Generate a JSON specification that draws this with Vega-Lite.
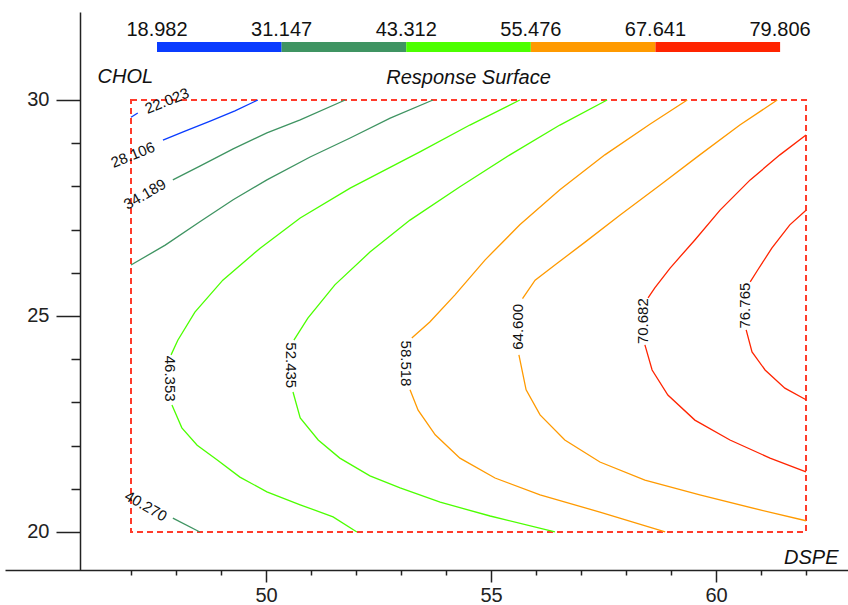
{
  "$schema": "https://vega.github.io/schema/vega-lite/v6.json",
  "width": 843,
  "height": 558,
  "autosize": "none",
  "padding": {"left": 5, "top": 12, "right": 0, "bottom": 35},
  "background": "white",
  "config": {"view": {"stroke": null}, "font": "Liberation Sans"},
  "title": {"text": "Response Surface", "orient": "top", "anchor": "middle", "frame": "group", "offset": 0, "dx": 42, "dy": 92, "baseline": "alphabetic", "fontSize": 20, "fontStyle": "italic", "fontWeight": "normal", "color": "#111"},
  "datasets": {
    "box": [{"x": 47, "x2": 62, "y": 20, "y2": 30}],
    "contours": [
      {"lv": 22.023, "s": "a", "i": 0, "x": 47.0, "y": 29.6},
      {"lv": 22.023, "s": "a", "i": 1, "x": 47.15, "y": 29.7},
      {"lv": 28.106, "s": "b", "i": 0, "x": 47.71, "y": 29.07},
      {"lv": 28.106, "s": "b", "i": 1, "x": 48.2, "y": 29.28},
      {"lv": 28.106, "s": "b", "i": 2, "x": 48.76, "y": 29.51},
      {"lv": 28.106, "s": "b", "i": 3, "x": 49.31, "y": 29.75},
      {"lv": 28.106, "s": "b", "i": 4, "x": 49.82, "y": 30.0},
      {"lv": 34.189, "s": "c", "i": 0, "x": 47.93, "y": 28.15},
      {"lv": 34.189, "s": "c", "i": 1, "x": 48.53, "y": 28.47},
      {"lv": 34.189, "s": "c", "i": 2, "x": 49.27, "y": 28.87},
      {"lv": 34.189, "s": "c", "i": 3, "x": 50.02, "y": 29.24},
      {"lv": 34.189, "s": "c", "i": 4, "x": 50.76, "y": 29.54},
      {"lv": 34.189, "s": "c", "i": 5, "x": 51.76, "y": 30.0},
      {"lv": 40.27, "s": "d1", "i": 0, "x": 53.71, "y": 30.0},
      {"lv": 40.27, "s": "d1", "i": 1, "x": 52.76, "y": 29.58},
      {"lv": 40.27, "s": "d1", "i": 2, "x": 51.87, "y": 29.12},
      {"lv": 40.27, "s": "d1", "i": 3, "x": 50.98, "y": 28.68},
      {"lv": 40.27, "s": "d1", "i": 4, "x": 50.02, "y": 28.15},
      {"lv": 40.27, "s": "d1", "i": 5, "x": 49.27, "y": 27.69},
      {"lv": 40.27, "s": "d1", "i": 6, "x": 48.53, "y": 27.18},
      {"lv": 40.27, "s": "d1", "i": 7, "x": 47.76, "y": 26.64},
      {"lv": 40.27, "s": "d1", "i": 8, "x": 47.0, "y": 26.18},
      {"lv": 40.27, "s": "d2", "i": 0, "x": 47.93, "y": 20.32},
      {"lv": 40.27, "s": "d2", "i": 1, "x": 48.53, "y": 20.0},
      {"lv": 46.353, "s": "e1", "i": 0, "x": 55.64, "y": 30.0},
      {"lv": 46.353, "s": "e1", "i": 1, "x": 54.53, "y": 29.42},
      {"lv": 46.353, "s": "e1", "i": 2, "x": 53.42, "y": 28.8},
      {"lv": 46.353, "s": "e1", "i": 3, "x": 51.87, "y": 27.96},
      {"lv": 46.353, "s": "e1", "i": 4, "x": 50.76, "y": 27.27},
      {"lv": 46.353, "s": "e1", "i": 5, "x": 49.87, "y": 26.57},
      {"lv": 46.353, "s": "e1", "i": 6, "x": 49.04, "y": 25.83},
      {"lv": 46.353, "s": "e1", "i": 7, "x": 48.42, "y": 25.09},
      {"lv": 46.353, "s": "e1", "i": 8, "x": 48.04, "y": 24.44},
      {"lv": 46.353, "s": "e1", "i": 9, "x": 47.89, "y": 24.1},
      {"lv": 46.353, "s": "e2", "i": 0, "x": 47.91, "y": 22.94},
      {"lv": 46.353, "s": "e2", "i": 1, "x": 48.13, "y": 22.41},
      {"lv": 46.353, "s": "e2", "i": 2, "x": 48.47, "y": 22.01},
      {"lv": 46.353, "s": "e2", "i": 3, "x": 48.91, "y": 21.67},
      {"lv": 46.353, "s": "e2", "i": 4, "x": 49.42, "y": 21.27},
      {"lv": 46.353, "s": "e2", "i": 5, "x": 50.02, "y": 20.93},
      {"lv": 46.353, "s": "e2", "i": 6, "x": 50.76, "y": 20.63},
      {"lv": 46.353, "s": "e2", "i": 7, "x": 51.49, "y": 20.35},
      {"lv": 46.353, "s": "e2", "i": 8, "x": 52.02, "y": 20.0},
      {"lv": 52.435, "s": "f1", "i": 0, "x": 57.58, "y": 30.0},
      {"lv": 52.435, "s": "f1", "i": 1, "x": 56.53, "y": 29.42},
      {"lv": 52.435, "s": "f1", "i": 2, "x": 55.42, "y": 28.73},
      {"lv": 52.435, "s": "f1", "i": 3, "x": 54.31, "y": 27.99},
      {"lv": 52.435, "s": "f1", "i": 4, "x": 53.2, "y": 27.22},
      {"lv": 52.435, "s": "f1", "i": 5, "x": 52.31, "y": 26.48},
      {"lv": 52.435, "s": "f1", "i": 6, "x": 51.53, "y": 25.72},
      {"lv": 52.435, "s": "f1", "i": 7, "x": 50.93, "y": 24.95},
      {"lv": 52.435, "s": "f1", "i": 8, "x": 50.62, "y": 24.44},
      {"lv": 52.435, "s": "f2", "i": 0, "x": 50.6, "y": 23.24},
      {"lv": 52.435, "s": "f2", "i": 1, "x": 50.76, "y": 22.64},
      {"lv": 52.435, "s": "f2", "i": 2, "x": 51.16, "y": 22.13},
      {"lv": 52.435, "s": "f2", "i": 3, "x": 51.64, "y": 21.71},
      {"lv": 52.435, "s": "f2", "i": 4, "x": 52.31, "y": 21.3},
      {"lv": 52.435, "s": "f2", "i": 5, "x": 52.98, "y": 21.02},
      {"lv": 52.435, "s": "f2", "i": 6, "x": 53.87, "y": 20.69},
      {"lv": 52.435, "s": "f2", "i": 7, "x": 54.98, "y": 20.37},
      {"lv": 52.435, "s": "f2", "i": 8, "x": 56.42, "y": 20.0},
      {"lv": 58.518, "s": "g1", "i": 0, "x": 59.36, "y": 30.0},
      {"lv": 58.518, "s": "g1", "i": 1, "x": 58.53, "y": 29.44},
      {"lv": 58.518, "s": "g1", "i": 2, "x": 57.53, "y": 28.73},
      {"lv": 58.518, "s": "g1", "i": 3, "x": 56.53, "y": 27.92},
      {"lv": 58.518, "s": "g1", "i": 4, "x": 55.64, "y": 27.11},
      {"lv": 58.518, "s": "g1", "i": 5, "x": 54.87, "y": 26.3},
      {"lv": 58.518, "s": "g1", "i": 6, "x": 54.2, "y": 25.49},
      {"lv": 58.518, "s": "g1", "i": 7, "x": 53.64, "y": 24.86},
      {"lv": 58.518, "s": "g1", "i": 8, "x": 53.24, "y": 24.49},
      {"lv": 58.518, "s": "g2", "i": 0, "x": 53.2, "y": 23.29},
      {"lv": 58.518, "s": "g2", "i": 1, "x": 53.38, "y": 22.82},
      {"lv": 58.518, "s": "g2", "i": 2, "x": 53.76, "y": 22.25},
      {"lv": 58.518, "s": "g2", "i": 3, "x": 54.31, "y": 21.71},
      {"lv": 58.518, "s": "g2", "i": 4, "x": 55.09, "y": 21.25},
      {"lv": 58.518, "s": "g2", "i": 5, "x": 56.09, "y": 20.86},
      {"lv": 58.518, "s": "g2", "i": 6, "x": 57.42, "y": 20.46},
      {"lv": 58.518, "s": "g2", "i": 7, "x": 58.87, "y": 20.0},
      {"lv": 64.6, "s": "h1", "i": 0, "x": 61.36, "y": 30.0},
      {"lv": 64.6, "s": "h1", "i": 1, "x": 60.53, "y": 29.42},
      {"lv": 64.6, "s": "h1", "i": 2, "x": 59.64, "y": 28.73},
      {"lv": 64.6, "s": "h1", "i": 3, "x": 58.76, "y": 28.03},
      {"lv": 64.6, "s": "h1", "i": 4, "x": 57.87, "y": 27.34},
      {"lv": 64.6, "s": "h1", "i": 5, "x": 57.09, "y": 26.71},
      {"lv": 64.6, "s": "h1", "i": 6, "x": 56.42, "y": 26.18},
      {"lv": 64.6, "s": "h1", "i": 7, "x": 55.98, "y": 25.83},
      {"lv": 64.6, "s": "h1", "i": 8, "x": 55.7, "y": 25.4},
      {"lv": 64.6, "s": "h2", "i": 0, "x": 55.62, "y": 24.1},
      {"lv": 64.6, "s": "h2", "i": 1, "x": 55.78, "y": 23.29},
      {"lv": 64.6, "s": "h2", "i": 2, "x": 56.09, "y": 22.71},
      {"lv": 64.6, "s": "h2", "i": 3, "x": 56.64, "y": 22.13},
      {"lv": 64.6, "s": "h2", "i": 4, "x": 57.42, "y": 21.62},
      {"lv": 64.6, "s": "h2", "i": 5, "x": 58.42, "y": 21.2},
      {"lv": 64.6, "s": "h2", "i": 6, "x": 59.64, "y": 20.86},
      {"lv": 64.6, "s": "h2", "i": 7, "x": 60.98, "y": 20.51},
      {"lv": 64.6, "s": "h2", "i": 8, "x": 62.0, "y": 20.26},
      {"lv": 70.682, "s": "k1", "i": 0, "x": 62.0, "y": 29.19},
      {"lv": 70.682, "s": "k1", "i": 1, "x": 61.42, "y": 28.73},
      {"lv": 70.682, "s": "k1", "i": 2, "x": 60.76, "y": 28.15},
      {"lv": 70.682, "s": "k1", "i": 3, "x": 60.09, "y": 27.45},
      {"lv": 70.682, "s": "k1", "i": 4, "x": 59.53, "y": 26.76},
      {"lv": 70.682, "s": "k1", "i": 5, "x": 58.98, "y": 26.11},
      {"lv": 70.682, "s": "k1", "i": 6, "x": 58.64, "y": 25.65},
      {"lv": 70.682, "s": "k1", "i": 7, "x": 58.49, "y": 25.42},
      {"lv": 70.682, "s": "k2", "i": 0, "x": 58.42, "y": 24.33},
      {"lv": 70.682, "s": "k2", "i": 1, "x": 58.58, "y": 23.75},
      {"lv": 70.682, "s": "k2", "i": 2, "x": 58.93, "y": 23.17},
      {"lv": 70.682, "s": "k2", "i": 3, "x": 59.53, "y": 22.59},
      {"lv": 70.682, "s": "k2", "i": 4, "x": 60.31, "y": 22.13},
      {"lv": 70.682, "s": "k2", "i": 5, "x": 61.2, "y": 21.71},
      {"lv": 70.682, "s": "k2", "i": 6, "x": 62.0, "y": 21.39},
      {"lv": 76.765, "s": "m1", "i": 0, "x": 62.0, "y": 27.45},
      {"lv": 76.765, "s": "m1", "i": 1, "x": 61.64, "y": 27.11},
      {"lv": 76.765, "s": "m1", "i": 2, "x": 61.24, "y": 26.57},
      {"lv": 76.765, "s": "m1", "i": 3, "x": 60.93, "y": 26.07},
      {"lv": 76.765, "s": "m1", "i": 4, "x": 60.76, "y": 25.79},
      {"lv": 76.765, "s": "m2", "i": 0, "x": 60.67, "y": 24.68},
      {"lv": 76.765, "s": "m2", "i": 1, "x": 60.8, "y": 24.17},
      {"lv": 76.765, "s": "m2", "i": 2, "x": 61.09, "y": 23.75},
      {"lv": 76.765, "s": "m2", "i": 3, "x": 61.53, "y": 23.33},
      {"lv": 76.765, "s": "m2", "i": 4, "x": 62.0, "y": 23.06}
    ],
    "labels": [
      {"label": "22.023", "x": 47.8, "y": 29.98, "angle": -22},
      {"label": "28.106", "x": 47.04, "y": 28.73, "angle": -22},
      {"label": "34.189", "x": 47.31, "y": 27.82, "angle": -30},
      {"label": "40.270", "x": 47.33, "y": 20.6, "angle": 30},
      {"label": "46.353", "x": 47.87, "y": 23.55, "angle": 90},
      {"label": "52.435", "x": 50.56, "y": 23.86, "angle": 90},
      {"label": "58.518", "x": 53.11, "y": 23.9, "angle": 90},
      {"label": "64.600", "x": 55.6, "y": 24.75, "angle": -90},
      {"label": "70.682", "x": 58.38, "y": 24.88, "angle": -90},
      {"label": "76.765", "x": 60.64, "y": 25.24, "angle": -90}
    ]
  },
  "layer": [
    {
      "data": {"name": "box"},
      "mark": {"type": "rect", "filled": false, "stroke": "#ff3b2b", "strokeWidth": 2, "strokeDash": [6, 4]},
      "encoding": {
        "x": {"field": "x", "type": "quantitative", "scale": {"domain": [44.2, 62.933], "nice": false, "zero": false},
          "axis": {"values": [47, 48, 49, 50, 51, 52, 53, 54, 55, 56, 57, 58, 59, 60, 61, 62],
            "labelExpr": "datum.value % 5 === 0 ? datum.label : ''",
            "tickSize": {"condition": {"test": "datum.value % 5 === 0", "value": 12}, "value": 5},
            "labelPadding": 3, "labelFontSize": 20, "labelColor": "#222", "labelFont": "Liberation Sans",
            "domainColor": "#222", "domainWidth": 1.5, "tickColor": "#222", "tickWidth": 1.5,
            "grid": false, "labelFlush": false, "labelOverlap": false,
            "title": "DSPE", "titleFont": "Liberation Sans", "titleFontStyle": "italic", "titleFontWeight": "normal", "titleFontSize": 20, "titleColor": "#111",
            "titleX": 833, "titleY": -7, "titleAlign": "right", "titleBaseline": "alphabetic"}},
        "x2": {"field": "x2"},
        "y": {"field": "y", "type": "quantitative", "scale": {"domain": [19.12, 32.037], "nice": false, "zero": false},
          "axis": {"values": [20, 21, 22, 23, 24, 25, 26, 27, 28, 29, 30], "offset": -75,
            "labelExpr": "datum.value % 5 === 0 ? datum.label : ''",
            "tickSize": {"condition": {"test": "datum.value % 5 === 0", "value": 24}, "value": 9},
            "labelPadding": 7, "labelFontSize": 20, "labelColor": "#222", "labelFont": "Liberation Sans",
            "domainColor": "#222", "domainWidth": 1.5, "tickColor": "#222", "tickWidth": 1.5,
            "grid": false, "labelFlush": false, "labelOverlap": false,
            "title": "CHOL", "titleFont": "Liberation Sans", "titleFontStyle": "italic", "titleFontWeight": "normal", "titleFontSize": 20, "titleColor": "#111",
            "titleAngle": 0, "titleX": 17, "titleY": 70, "titleAlign": "left", "titleBaseline": "alphabetic"}},
        "y2": {"field": "y2"}
      }
    },
    {
      "data": {"name": "contours"},
      "mark": {"type": "line", "strokeWidth": 1.3},
      "encoding": {
        "x": {"field": "x", "type": "quantitative", "scale": {"domain": [44.2, 62.933], "nice": false, "zero": false}},
        "y": {"field": "y", "type": "quantitative", "scale": {"domain": [19.12, 32.037], "nice": false, "zero": false}},
        "detail": {"field": "s"},
        "order": {"field": "i", "type": "quantitative"},
        "color": {"field": "lv", "type": "quantitative",
          "scale": {"type": "quantize", "domain": [18.981, 79.801], "range": ["#0a3cff", "#3f9462", "#4cff00", "#ff9a00", "#ff2400"]},
          "legend": {"type": "gradient", "orient": "none", "legendX": 152, "legendY": 30, "direction": "horizontal",
            "values": [18.982, 31.147, 43.312, 55.476, 67.641, 79.806],
            "labelExpr": "format(datum.value, '.3f')",
            "gradientLength": 623, "gradientThickness": 10, "gradientStrokeWidth": 0, "title": null,
            "labelFontSize": 20, "labelFont": "Liberation Sans", "labelColor": "#111", "labelOffset": -32,
            "labelOverlap": false, "format": ".3f", "padding": 0,
            "encode": {"labels": {"update": {"align": {"value": "center"}}}}}}
      }
    },
    {
      "data": {"name": "labels"},
      "mark": {"type": "text", "fontSize": 15, "font": "Liberation Sans", "color": "#111", "align": "center", "baseline": "middle"},
      "encoding": {
        "x": {"field": "x", "type": "quantitative", "scale": {"domain": [44.2, 62.933], "nice": false, "zero": false}},
        "y": {"field": "y", "type": "quantitative", "scale": {"domain": [19.12, 32.037], "nice": false, "zero": false}},
        "text": {"field": "label"},
        "angle": {"field": "angle", "type": "quantitative", "scale": null}
      }
    }
  ]
}
